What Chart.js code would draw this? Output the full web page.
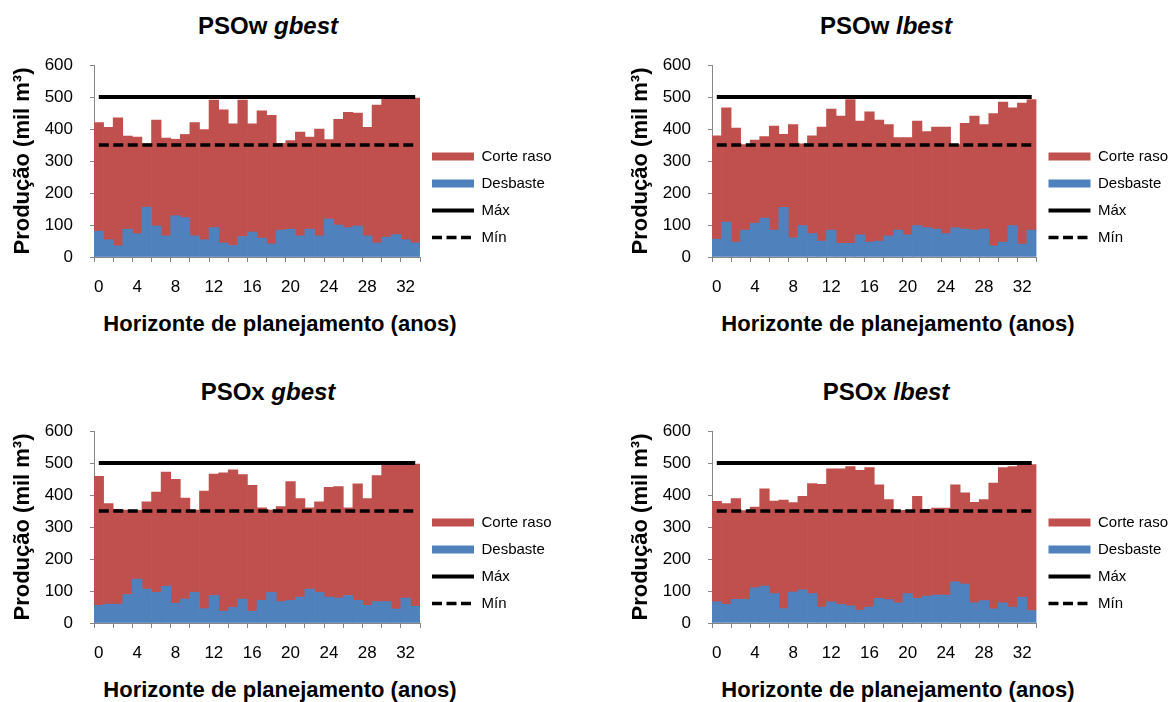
<!DOCTYPE html>
<html lang="pt-BR">
<head>
<meta charset="utf-8">
<title>Produção por horizonte de planejamento</title>
<script src="https://cdn.jsdelivr.net/npm/chart.js@4/dist/chart.umd.min.js"></script>
<style>
    body { margin: 0; background: #fff; }
    #painel { position: relative; width: 1176px; height: 702px; overflow: hidden;
              font-family: Arial, "Liberation Sans", sans-serif; color: #000; }
    canvas { position: absolute; }
    .titulo { position: absolute; width: 300px; text-align: center; font-size: 24px;
              line-height: 28px; font-weight: bold; white-space: nowrap; }
    .eixo-x { position: absolute; width: 420px; text-align: center; font-size: 22px;
              line-height: 26px; font-weight: bold; white-space: nowrap; }
</style>
</head>
<body>
<div id="painel">
    <div class="titulo" style="left:118px;top:12px">PSOw <i>gbest</i></div>
    <div class="titulo" style="left:736px;top:12px">PSOw <i>lbest</i></div>
    <div class="titulo" style="left:118px;top:378px">PSOx <i>gbest</i></div>
    <div class="titulo" style="left:736px;top:378px">PSOx <i>lbest</i></div>

    <canvas id="wGbest" width="588" height="300" style="left:0;top:0"></canvas>
    <canvas id="wLbest" width="588" height="300" style="left:588px;top:0"></canvas>
    <canvas id="xGbest" width="588" height="300" style="left:0;top:366px"></canvas>
    <canvas id="xLbest" width="588" height="300" style="left:588px;top:366px"></canvas>

    <div class="eixo-x" style="left:70px;top:311px">Horizonte de planejamento (anos)</div>
    <div class="eixo-x" style="left:688px;top:311px">Horizonte de planejamento (anos)</div>
    <div class="eixo-x" style="left:70px;top:677px">Horizonte de planejamento (anos)</div>
    <div class="eixo-x" style="left:688px;top:677px">Horizonte de planejamento (anos)</div>
</div>

<script>
// ==========================
// Dados (mil m³ por ano)
// ==========================
const anos = [0, 1, 2, 3, 4, 5, 6, 7, 8, 9, 10, 11, 12, 13, 14, 15, 16,
              17, 18, 19, 20, 21, 22, 23, 24, 25, 26, 27, 28, 29, 30, 31, 32, 33];
const limiteMax = 500;
const limiteMin = 350;

// PSOw gbest
const wGbestCorte = [339, 351, 400, 291, 302, 198, 331, 306, 239, 260, 354, 344, 398, 416, 380, 426, 338,
                     398, 402, 271, 277, 324, 288, 334, 248, 330, 360, 353, 339, 431, 435, 427, 443, 453];
const wGbestDesbaste = [81, 54, 35, 87, 73, 156, 97, 66, 129, 123, 66, 54, 92, 44, 36, 64, 78,
                        59, 41, 84, 87, 66, 87, 66, 119, 100, 92, 97, 66, 44, 62, 70, 54, 44];

// PSOw lbest
const wLbestCorte = [323, 357, 356, 267, 259, 254, 325, 228, 354, 256, 306, 356, 378, 397, 449, 356, 407,
                     378, 348, 289, 304, 327, 300, 319, 333, 260, 331, 356, 327, 413, 437, 368, 441, 408];
const wLbestDesbaste = [56, 109, 47, 84, 106, 122, 84, 155, 60, 98, 73, 50, 84, 43, 43, 69, 47,
                        50, 66, 84, 69, 98, 92, 87, 73, 91, 87, 84, 87, 35, 47, 98, 40, 84];

// PSOx gbest
const xGbestCorte = [403, 314, 296, 264, 215, 273, 313, 357, 387, 315, 257, 367, 379, 432, 430, 389, 393,
                     289, 257, 297, 371, 308, 254, 283, 343, 348, 274, 364, 334, 394, 430, 453, 419, 445];
const xGbestDesbaste = [55, 59, 59, 89, 137, 106, 96, 115, 62, 75, 96, 45, 86, 37, 49, 75, 37,
                        71, 96, 67, 71, 81, 106, 96, 81, 78, 86, 71, 55, 67, 67, 44, 78, 52];

// PSOx lbest
const xLbestCorte = [314, 315, 315, 277, 252, 304, 289, 339, 279, 292, 344, 383, 416, 424, 435, 437, 436,
                     355, 313, 289, 260, 319, 271, 272, 272, 303, 285, 314, 316, 393, 423, 439, 414, 456];
const xLbestDesbaste = [66, 58, 74, 74, 110, 115, 92, 45, 97, 104, 92, 50, 66, 58, 54, 40, 50,
                        77, 73, 63, 92, 77, 84, 87, 87, 129, 122, 63, 70, 44, 63, 50, 81, 39];

// ==========================
// Configuração geral
// ==========================
Chart.defaults.font.family = 'Arial, "Liberation Sans", sans-serif';
Chart.defaults.color = '#000';

const corEixo = '#868686';

// legenda: retângulo para as áreas, linha (contínua / tracejada) para Máx e Mín
function gerarLegenda(chart) {
    const itens = Chart.defaults.plugins.legend.labels.generateLabels(chart);
    return itens.map(item => {
        const ds = chart.data.datasets[item.datasetIndex];
        if (ds.type === 'line') {
            item.pointStyle = 'line';
            item.strokeStyle = ds.borderColor;
            item.lineWidth = ds.borderWidth;
            item.lineDash = ds.borderDash || [];
        } else {
            item.pointStyle = 'rect';
            item.lineWidth = 0;
        }
        return item;
    });
}

function criarGrafico(id, corte, desbaste, padEsq, padDir) {
    const ctx = document.getElementById(id).getContext('2d');

    return new Chart(ctx, {
        type: 'bar',
        data: {
            labels: anos,
            datasets: [
                {
                    label: 'Corte raso',
                    data: corte,
                    backgroundColor: '#C0504D',
                    stack: 'producao',
                    order: 2
                },
                {
                    label: 'Desbaste',
                    data: desbaste,
                    backgroundColor: '#4F81BD',
                    stack: 'producao',
                    order: 1
                },
                {
                    type: 'line',
                    label: 'Máx',
                    data: anos.map(() => limiteMax),
                    borderColor: '#000',
                    borderWidth: 4,
                    pointRadius: 0,
                    stack: 'max',
                    order: 0
                },
                {
                    type: 'line',
                    label: 'Mín',
                    data: anos.map(() => limiteMin),
                    borderColor: '#000',
                    borderWidth: 3.5,
                    borderDash: [10, 4.5],
                    pointRadius: 0,
                    stack: 'min',
                    order: 0
                }
            ]
        },
        options: {
            responsive: false,
            animation: false,
            events: [],
            layout: { padding: { left: padEsq, right: padDir, top: 65, bottom: 0 } },
            datasets: {
                bar: { barPercentage: 1, categoryPercentage: 1, borderWidth: 0 }
            },
            plugins: {
                tooltip: { enabled: false },
                legend: {
                    position: 'right',
                    align: 'end',
                    fullSize: false,
                    labels: {
                        usePointStyle: true,
                        pointStyleWidth: 42,
                        boxHeight: 8,
                        padding: 12,
                        color: '#000',
                        font: { size: 15 },
                        sort: (a, b) => a.datasetIndex - b.datasetIndex,
                        generateLabels: gerarLegenda
                    }
                }
            },
            scales: {
                x: {
                    stacked: true,
                    grid: {
                        drawOnChartArea: false,
                        tickLength: 5,
                        // marca a cada 2 anos (a última, no fim do eixo, também)
                        tickColor: c => (c.type !== 'tick' || c.index % 2 === 0) ? corEixo : 'rgba(0,0,0,0)'
                    },
                    border: { color: corEixo },
                    ticks: {
                        autoSkip: false,
                        maxRotation: 0,
                        padding: 15,
                        font: { size: 17 },
                        callback: (valor, i) => i % 4 === 0 ? String(anos[i]) : ''
                    },
                    afterFit: escala => { escala.height = 43; }
                },
                y: {
                    stacked: true,
                    min: 0,
                    max: 600,
                    grid: { drawOnChartArea: false, tickLength: 4, tickColor: corEixo },
                    border: { color: corEixo },
                    ticks: { stepSize: 100, padding: 17, font: { size: 17 } },
                    title: {
                        display: true,
                        text: 'Produção (mil m³)',
                        font: { size: 22, weight: 'bold' },
                        padding: { top: 10, bottom: 0 }
                    },
                    afterFit: escala => { escala.width = 94; }
                }
            }
        }
    });
}

// ==========================
// Desenha os quatro painéis
// ==========================
document.addEventListener('DOMContentLoaded', () => {
    criarGrafico('wGbest', wGbestCorte, wGbestDesbaste, 0, 28);
    criarGrafico('wLbest', wLbestCorte, wLbestDesbaste, 30, 0);
    criarGrafico('xGbest', xGbestCorte, xGbestDesbaste, 0, 28);
    criarGrafico('xLbest', xLbestCorte, xLbestDesbaste, 30, 0);
});
</script>
</body>
</html>
